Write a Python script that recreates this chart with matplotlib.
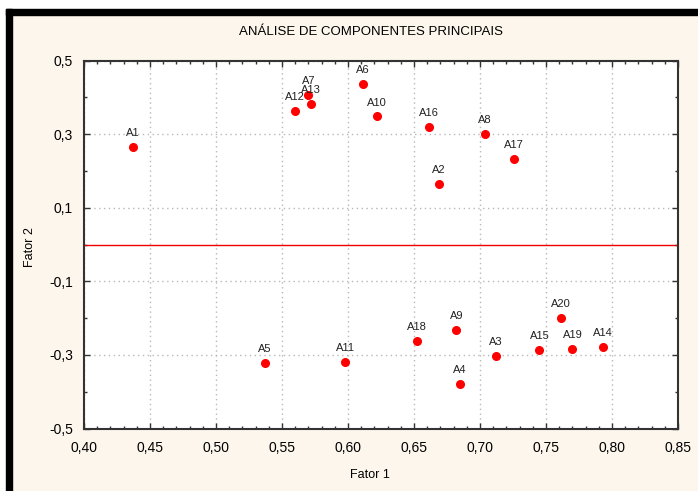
import matplotlib

matplotlib.use("Agg")

import matplotlib.pyplot as plt
from matplotlib.patches import Rectangle
from matplotlib.ticker import FuncFormatter, MultipleLocator

labels = ["A1", "A2", "A3", "A4", "A5", "A6", "A7", "A8", "A9", "A10",
          "A11", "A12", "A13", "A14", "A15", "A16", "A17", "A18", "A19", "A20"]
fator1 = [0.437, 0.669, 0.712, 0.685, 0.537, 0.611, 0.570, 0.704, 0.682, 0.622,
          0.598, 0.560, 0.572, 0.793, 0.745, 0.661, 0.726, 0.652, 0.770, 0.761]
fator2 = [0.264, 0.164, -0.302, -0.379, -0.322, 0.436, 0.406, 0.301, -0.231, 0.348,
          -0.319, 0.364, 0.381, -0.279, -0.287, 0.320, 0.233, -0.263, -0.283, -0.199]

BG = "#fdf6ec"


def comma_fmt(decimals):
    return FuncFormatter(lambda v, _: f"{v:.{decimals}f}".replace(".", ","))


def main() -> None:
    plt.rcParams["font.family"] = ["Liberation Sans", "DejaVu Sans"]
    fig = plt.figure(figsize=(6.98, 4.91), dpi=100, facecolor=BG)
    W, H = 698, 491

    # window frame: white margin plus black bars on the top and left
    fig.add_artist(Rectangle((0, 0), 6 / W, 1, transform=fig.transFigure, color="white", zorder=0))
    fig.add_artist(Rectangle((0, 1 - 9 / H), 1, 9 / H, transform=fig.transFigure, color="white", zorder=0))
    fig.add_artist(Rectangle((6 / W, 0), 6 / W, 1 - 9 / H, transform=fig.transFigure, color="black", zorder=1))
    fig.add_artist(Rectangle((6 / W, 1 - 15 / H), 1 - 6 / W, 6 / H, transform=fig.transFigure, color="black", zorder=1))

    ax = fig.add_axes([84 / W, 1 - 428.5 / H, (678 - 84) / W, (428.5 - 60.5) / H])
    ax.set_facecolor("white")
    ax.set_xlim(0.40, 0.85)
    ax.set_ylim(-0.5, 0.5)

    ax.xaxis.set_major_locator(MultipleLocator(0.05))
    ax.xaxis.set_minor_locator(MultipleLocator(0.01))
    ax.xaxis.set_major_formatter(comma_fmt(2))
    ax.set_yticks([-0.5, -0.3, -0.1, 0.1, 0.3, 0.5])
    ax.set_yticks([-0.4, -0.2, 0.0, 0.2, 0.4], minor=True)
    ax.yaxis.set_major_formatter(comma_fmt(1))

    ax.tick_params(which="both", direction="in", top=True, right=True, color="#333333")
    ax.tick_params(which="major", length=4, width=1, labelsize=10)
    ax.tick_params(axis="x", which="major", pad=9)
    ax.tick_params(axis="y", which="major", pad=8)
    ax.tick_params(which="minor", length=2.5, width=1)
    for spine in ax.spines.values():
        spine.set_color("#333333")
        spine.set_linewidth(1.5)

    ax.grid(which="major", linestyle=(0, (1, 2.5)), color="#b8b8b8", linewidth=1)
    ax.axhline(0, color="#ee0000", linewidth=1, zorder=2)

    ax.plot(fator1, fator2, "o", color="red", markersize=5.5, zorder=3)
    for name, x, y in zip(labels, fator1, fator2):
        ax.annotate(name, (x, y), xytext=(0, 10), textcoords="offset points",
                    ha="center", va="center", fontsize=8, color="#222222")

    fig.text(370 / W, 1 - 475 / H, "Fator 1", ha="center", va="center", fontsize=9)
    fig.text(30 / W, 1 - 247 / H, "Fator 2", ha="center", va="center", fontsize=9, rotation=90)
    fig.text(371 / W, 1 - 32 / H, "ANÁLISE DE COMPONENTES PRINCIPAIS",
             ha="center", va="center", fontsize=9.5)

    fig.savefig("out.png", dpi=100, facecolor=BG)
    plt.close(fig)


if __name__ == "__main__":
    main()
